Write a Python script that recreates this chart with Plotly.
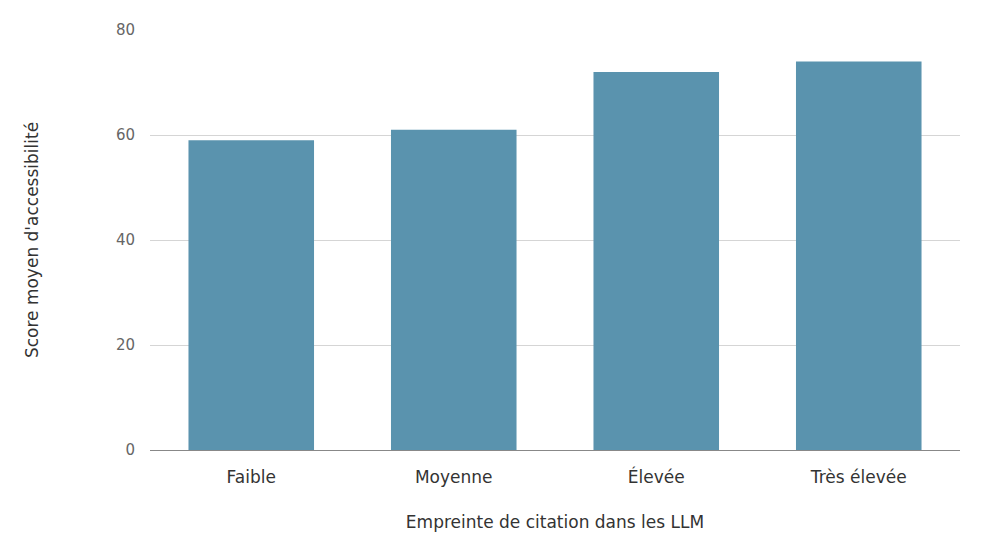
import plotly.graph_objects as go

categories = ["Faible", "Moyenne", "Élevée", "Très élevée"]
scores = [59, 61, 72, 74]
y_ticks = [0, 20, 40, 60, 80]

fig = go.Figure()
fig.add_trace(go.Bar(
    x=categories, y=scores,
    marker=dict(color="#5a93ae", line=dict(width=0)),
    width=0.62,
))

fig.update_layout(
    width=1000, height=560,
    margin=dict(l=142, r=48, t=22, b=118),
    plot_bgcolor="white", paper_bgcolor="white",
    font=dict(family="DejaVu Sans", size=16, color="#333333"),
    showlegend=False,
)
fig.update_xaxes(
    title=dict(text="Empreinte de citation dans les LLM", standoff=29,
               font=dict(size=17, color="#333333")),
    showline=True, linecolor="#888888", linewidth=1,
    ticks="", ticklabelstandoff=12,
    tickfont=dict(size=17, color="#333333"),
)
fig.update_yaxes(
    title=dict(text="Score moyen d'accessibilité", standoff=72,
               font=dict(size=17, color="#333333")),
    range=[0, 80], tickvals=y_ticks,
    showgrid=True, gridcolor="#d5d5d5", gridwidth=1,
    zeroline=False, ticks="", ticklabelstandoff=14,
    tickfont=dict(size=15, color="#666666"),
)

fig.write_html("out.html")
